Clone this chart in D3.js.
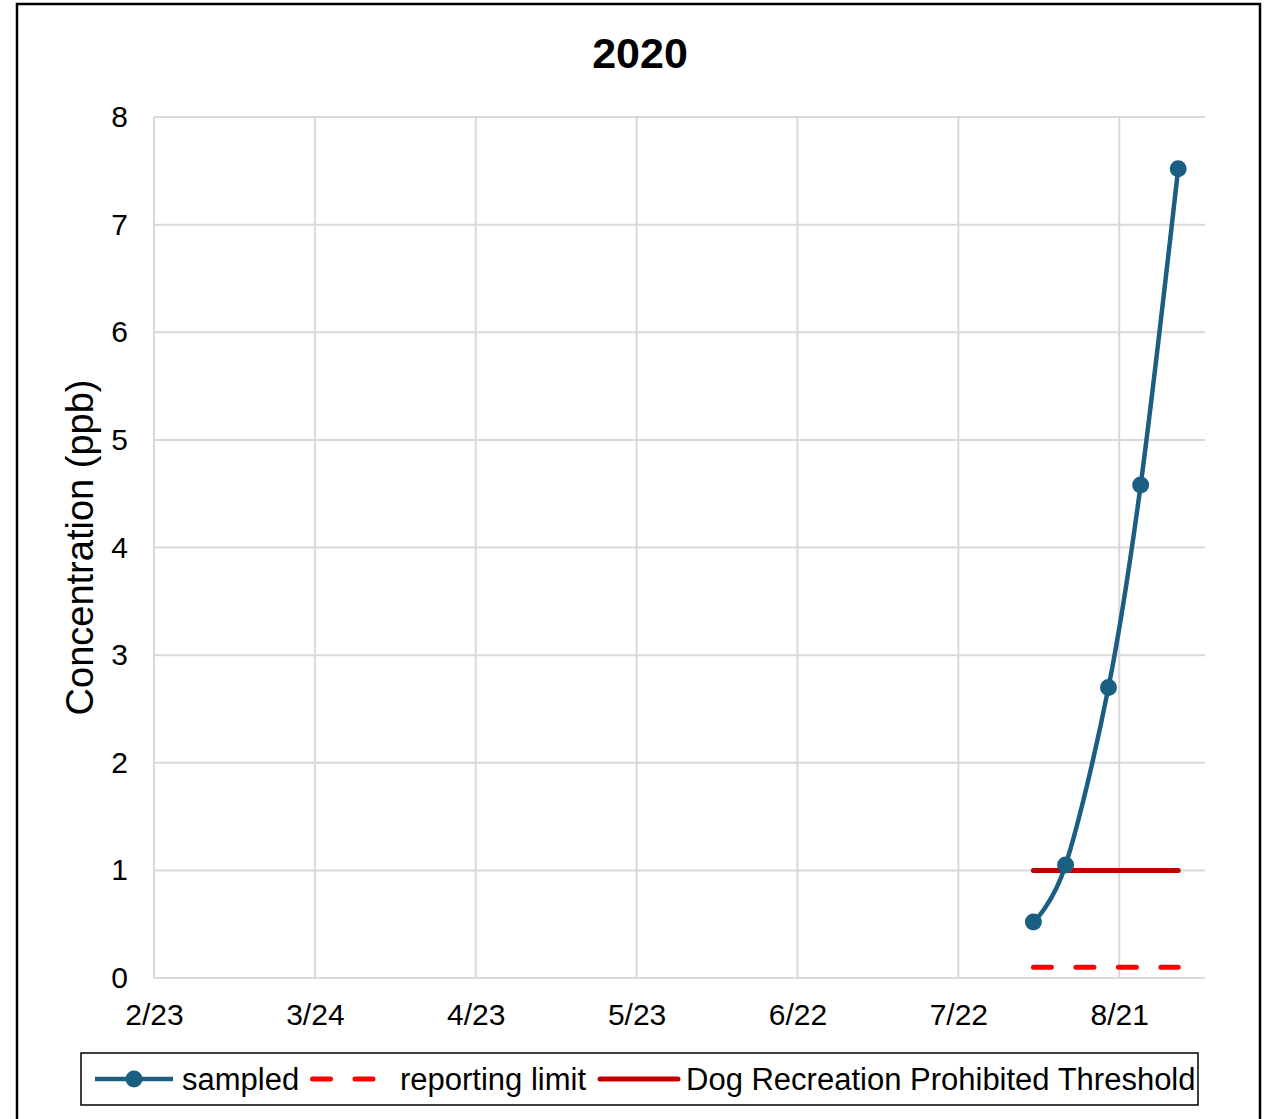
<html>
  <head>
    <meta charset="UTF-8">
    <script src="https://d3js.org/d3.v7.min.js"></script>
    <style>
      body {
        margin: 0;
        background: #fff;
        font-family: "Liberation Sans", Arial, Helvetica, sans-serif;
      }

      .grid line {
        stroke: #d9d9d9;
        stroke-width: 2;
      }

      .tick-label {
        font-size: 30px;
        fill: #000;
      }
    </style>
  </head>
  <body>
    <svg width="1268" height="1119"></svg>
    <script>
      // values
      const xTicks = ["2020-02-23", "2020-03-24", "2020-04-23", "2020-05-23", "2020-06-22", "2020-07-22", "2020-08-21"];
      const xDomain = ["2020-02-23", "2020-09-06"];
      const yTicks = [0, 1, 2, 3, 4, 5, 6, 7, 8];

      const sampleDates = ["2020-08-05", "2020-08-11", "2020-08-19", "2020-08-25", "2020-09-01"];
      const sampled = [0.52, 1.05, 2.70, 4.58, 7.52];
      const reportingLimit = [0.1, 0.1, 0.1, 0.1, 0.1];
      const threshold = [1, 1, 1, 1, 1];

      const legendLabels = ["sampled", "reporting limit", "Dog Recreation Prohibited Threshold"];

      const parse = d3.timeParse("%Y-%m-%d");
      const fmt = d3.timeFormat("%-m/%-d");

      const svg = d3.select("svg");
      const plot = { left: 154, right: 1205, top: 117, bottom: 978 };

      const x = d3.scaleTime()
        .domain(xDomain.map(parse))
        .range([plot.left, plot.right]);

      const y = d3.scaleLinear()
        .domain([0, 8])
        .range([plot.bottom, plot.top]);

      // outer chart border
      svg.append("rect")
        .attr("x", 17)
        .attr("y", 4)
        .attr("width", 1243)
        .attr("height", 1130)
        .attr("fill", "#fff")
        .attr("stroke", "#000")
        .attr("stroke-width", 2.5);

      // title
      svg.append("text")
        .attr("x", 640)
        .attr("y", 68)
        .attr("text-anchor", "middle")
        .style("font-size", "43px")
        .style("font-weight", "bold")
        .text("2020");

      // gridlines
      const grid = svg.append("g").attr("class", "grid");

      grid.selectAll("line.h")
        .data(yTicks)
        .join("line")
          .attr("class", "h")
          .attr("x1", plot.left)
          .attr("x2", plot.right)
          .attr("y1", (d) => y(d))
          .attr("y2", (d) => y(d));

      grid.selectAll("line.v")
        .data(xTicks.map(parse))
        .join("line")
          .attr("class", "v")
          .attr("x1", (d) => x(d))
          .attr("x2", (d) => x(d))
          .attr("y1", plot.top)
          .attr("y2", plot.bottom);

      // axes (labels only, Excel style)
      const yAxis = svg.append("g")
        .attr("transform", `translate(${plot.left},0)`)
        .call(d3.axisLeft(y).tickValues(yTicks).tickSize(0).tickPadding(26));
      yAxis.select(".domain").remove();
      yAxis.selectAll("text")
        .attr("class", "tick-label")
        .attr("font-family", null)
        .attr("font-size", null);

      const xAxis = svg.append("g")
        .attr("transform", `translate(0,${plot.bottom})`)
        .call(d3.axisBottom(x).tickValues(xTicks.map(parse)).tickFormat(fmt).tickSize(0).tickPadding(26));
      xAxis.select(".domain").remove();
      xAxis.selectAll("text")
        .attr("class", "tick-label")
        .attr("font-family", null)
        .attr("font-size", null);

      // y axis title
      svg.append("text")
        .attr("transform", `translate(93, ${(plot.top + plot.bottom) / 2}) rotate(-90)`)
        .attr("text-anchor", "middle")
        .style("font-size", "38px")
        .text("Concentration (ppb)");

      const rows = sampleDates.map((d, i) => ({
        date: parse(d),
        sampled: sampled[i],
        limit: reportingLimit[i],
        threshold: threshold[i]
      }));

      // reporting limit
      svg.append("path")
        .datum(rows)
        .attr("fill", "none")
        .attr("stroke", "#ff0000")
        .attr("stroke-width", 5)
        .attr("stroke-linecap", "round")
        .attr("stroke-dasharray", "18 24.5")
        .attr("d", d3.line().x((d) => x(d.date)).y((d) => y(d.limit)));

      // threshold
      svg.append("path")
        .datum(rows)
        .attr("fill", "none")
        .attr("stroke", "#c00000")
        .attr("stroke-width", 5)
        .attr("stroke-linecap", "round")
        .attr("d", d3.line().x((d) => x(d.date)).y((d) => y(d.threshold)));

      // sampled (smoothed)
      const blue = "#1a5f82";
      svg.append("path")
        .datum(rows)
        .attr("fill", "none")
        .attr("stroke", blue)
        .attr("stroke-width", 4.5)
        .attr("d", d3.line().curve(d3.curveCatmullRom.alpha(0)).x((d) => x(d.date)).y((d) => y(d.sampled)));

      svg.append("g")
        .selectAll("circle")
        .data(rows)
        .join("circle")
          .attr("cx", (d) => x(d.date))
          .attr("cy", (d) => y(d.sampled))
          .attr("r", 8.5)
          .attr("fill", blue);

      // legend
      const legend = svg.append("g");
      legend.append("rect")
        .attr("x", 81)
        .attr("y", 1053)
        .attr("width", 1117)
        .attr("height", 52)
        .attr("fill", "#fff")
        .attr("stroke", "#000")
        .attr("stroke-width", 1.5);

      const ly = 1079;
      legend.append("line")
        .attr("x1", 95).attr("x2", 173).attr("y1", ly).attr("y2", ly)
        .attr("stroke", blue).attr("stroke-width", 4.5);
      legend.append("circle")
        .attr("cx", 134).attr("cy", ly).attr("r", 8.5).attr("fill", blue);

      legend.append("line")
        .attr("x1", 312.5).attr("x2", 376).attr("y1", ly).attr("y2", ly)
        .attr("stroke", "#ff0000").attr("stroke-width", 5)
        .attr("stroke-linecap", "round").attr("stroke-dasharray", "18 24.5");

      legend.append("line")
        .attr("x1", 600).attr("x2", 678).attr("y1", ly).attr("y2", ly)
        .attr("stroke", "#c00000").attr("stroke-width", 5)
        .attr("stroke-linecap", "round");

      const textX = [182, 400, 686];
      legend.selectAll("text")
        .data(legendLabels)
        .join("text")
          .attr("x", (d, i) => textX[i])
          .attr("y", ly)
          .attr("dy", "0.36em")
          .style("font-size", "31px")
          .text((d) => d);
    </script>
  </body>
</html>
